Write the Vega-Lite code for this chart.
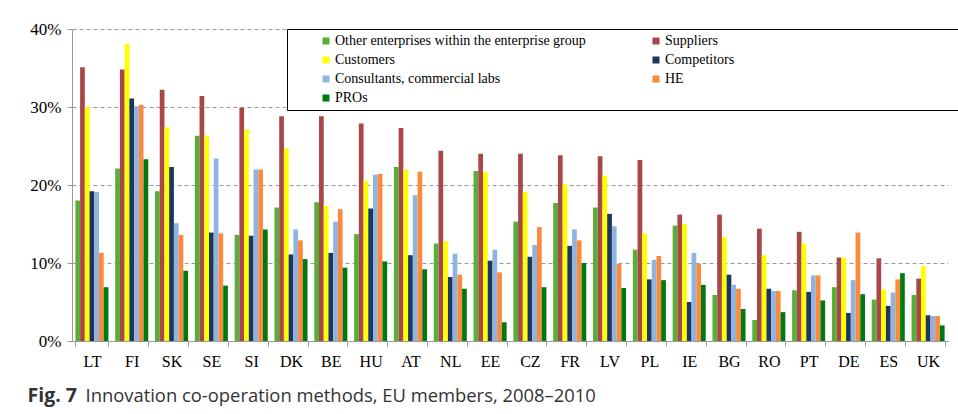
{
  "$schema": "https://vega.github.io/schema/vega-lite/v6.json",
  "width": 876,
  "height": 312,
  "autosize": "none",
  "padding": {"left": 72, "top": 29, "right": 10, "bottom": 73},
  "background": "white",
  "data": {
    "values": [
      {"country": "LT", "Other enterprises within the enterprise group": 18.0, "Suppliers": 35.1, "Customers": 30.0, "Competitors": 19.2, "Consultants, commercial labs": 19.1, "HE": 11.3, "PROs": 6.9},
      {"country": "FI", "Other enterprises within the enterprise group": 22.1, "Suppliers": 34.8, "Customers": 38.1, "Competitors": 31.1, "Consultants, commercial labs": 30.1, "HE": 30.3, "PROs": 23.3},
      {"country": "SK", "Other enterprises within the enterprise group": 19.2, "Suppliers": 32.2, "Customers": 27.4, "Competitors": 22.3, "Consultants, commercial labs": 15.1, "HE": 13.6, "PROs": 9.0},
      {"country": "SE", "Other enterprises within the enterprise group": 26.3, "Suppliers": 31.4, "Customers": 26.3, "Competitors": 13.9, "Consultants, commercial labs": 23.4, "HE": 13.8, "PROs": 7.1},
      {"country": "SI", "Other enterprises within the enterprise group": 13.6, "Suppliers": 29.9, "Customers": 27.1, "Competitors": 13.5, "Consultants, commercial labs": 22.0, "HE": 22.0, "PROs": 14.3},
      {"country": "DK", "Other enterprises within the enterprise group": 17.1, "Suppliers": 28.8, "Customers": 24.7, "Competitors": 11.1, "Consultants, commercial labs": 14.3, "HE": 12.9, "PROs": 10.5},
      {"country": "BE", "Other enterprises within the enterprise group": 17.8, "Suppliers": 28.8, "Customers": 17.3, "Competitors": 11.3, "Consultants, commercial labs": 15.3, "HE": 16.9, "PROs": 9.4},
      {"country": "HU", "Other enterprises within the enterprise group": 13.7, "Suppliers": 27.9, "Customers": 20.5, "Competitors": 17.0, "Consultants, commercial labs": 21.3, "HE": 21.4, "PROs": 10.2},
      {"country": "AT", "Other enterprises within the enterprise group": 22.3, "Suppliers": 27.3, "Customers": 22.0, "Competitors": 11.0, "Consultants, commercial labs": 18.7, "HE": 21.7, "PROs": 9.2},
      {"country": "NL", "Other enterprises within the enterprise group": 12.5, "Suppliers": 24.4, "Customers": 12.8, "Competitors": 8.2, "Consultants, commercial labs": 11.2, "HE": 8.5, "PROs": 6.7},
      {"country": "EE", "Other enterprises within the enterprise group": 21.8, "Suppliers": 24.0, "Customers": 21.7, "Competitors": 10.3, "Consultants, commercial labs": 11.7, "HE": 8.8, "PROs": 2.4},
      {"country": "CZ", "Other enterprises within the enterprise group": 15.3, "Suppliers": 24.0, "Customers": 19.1, "Competitors": 10.8, "Consultants, commercial labs": 12.3, "HE": 14.6, "PROs": 6.9},
      {"country": "FR", "Other enterprises within the enterprise group": 17.7, "Suppliers": 23.8, "Customers": 20.1, "Competitors": 12.2, "Consultants, commercial labs": 14.3, "HE": 12.9, "PROs": 10.0},
      {"country": "LV", "Other enterprises within the enterprise group": 17.1, "Suppliers": 23.7, "Customers": 21.2, "Competitors": 16.3, "Consultants, commercial labs": 14.7, "HE": 9.9, "PROs": 6.8},
      {"country": "PL", "Other enterprises within the enterprise group": 11.7, "Suppliers": 23.2, "Customers": 13.8, "Competitors": 7.9, "Consultants, commercial labs": 10.4, "HE": 10.9, "PROs": 7.8},
      {"country": "IE", "Other enterprises within the enterprise group": 14.8, "Suppliers": 16.2, "Customers": 15.0, "Competitors": 5.0, "Consultants, commercial labs": 11.3, "HE": 9.9, "PROs": 7.2},
      {"country": "BG", "Other enterprises within the enterprise group": 5.9, "Suppliers": 16.2, "Customers": 13.3, "Competitors": 8.5, "Consultants, commercial labs": 7.2, "HE": 6.7, "PROs": 4.1},
      {"country": "RO", "Other enterprises within the enterprise group": 2.7, "Suppliers": 14.4, "Customers": 11.0, "Competitors": 6.7, "Consultants, commercial labs": 6.4, "HE": 6.4, "PROs": 3.7},
      {"country": "PT", "Other enterprises within the enterprise group": 6.5, "Suppliers": 14.0, "Customers": 12.5, "Competitors": 6.3, "Consultants, commercial labs": 8.4, "HE": 8.4, "PROs": 5.2},
      {"country": "DE", "Other enterprises within the enterprise group": 6.9, "Suppliers": 10.7, "Customers": 10.7, "Competitors": 3.6, "Consultants, commercial labs": 7.8, "HE": 13.9, "PROs": 6.0},
      {"country": "ES", "Other enterprises within the enterprise group": 5.3, "Suppliers": 10.6, "Customers": 6.6, "Competitors": 4.5, "Consultants, commercial labs": 6.2, "HE": 7.9, "PROs": 8.7},
      {"country": "UK", "Other enterprises within the enterprise group": 5.9, "Suppliers": 8.0, "Customers": 9.6, "Competitors": 3.3, "Consultants, commercial labs": 3.2, "HE": 3.2, "PROs": 2.0}
    ]
  },
  "transform": [
    {"fold": ["Other enterprises within the enterprise group", "Suppliers", "Customers", "Competitors", "Consultants, commercial labs", "HE", "PROs"], "as": ["type", "value"]}
  ],
  "mark": {"type": "bar"},
  "encoding": {
    "x": {
      "field": "country",
      "type": "nominal",
      "sort": null,
      "scale": {"paddingInner": 0.17, "paddingOuter": 0.085},
      "axis": {
        "title": "Innovation co-operation methods, EU members, 2008–2010",
        "titleAnchor": "start",
        "titleAlign": "left",
        "titleX": 13,
        "titleY": 60,
        "titleBaseline": "alphabetic",
        "titleFont": "Open Sans",
        "titleFontSize": 18.4,
        "titleFontWeight": "normal",
        "titleColor": "#333333",
        "labelAngle": 0,
        "labelFont": "Liberation Serif",
        "labelFontSize": 16,
        "labelColor": "black",
        "labelPadding": 7,
        "domainColor": "#999999",
        "tickColor": "#999999",
        "tickSize": 5,
        "tickBand": "extent"
      }
    },
    "xOffset": {
      "field": "type",
      "sort": ["Other enterprises within the enterprise group", "Suppliers", "Customers", "Competitors", "Consultants, commercial labs", "HE", "PROs"]
    },
    "y": {
      "field": "value",
      "type": "quantitative",
      "scale": {"domain": [0, 40]},
      "axis": {
        "title": "Fig. 7",
        "titleAngle": 0,
        "titleX": -45,
        "titleY": 372,
        "titleAlign": "left",
        "titleBaseline": "alphabetic",
        "titleFont": "Open Sans",
        "titleFontSize": 19.5,
        "titleFontWeight": "bold",
        "titleColor": "#333333",
        "values": [0, 10, 20, 30, 40],
        "labelExpr": "datum.value + '%'",
        "labelFont": "Liberation Serif",
        "labelFontSize": 17,
        "labelColor": "black",
        "labelPadding": 6,
        "grid": true,
        "gridDash": [4, 3],
        "gridColor": "#999999",
        "domainColor": "#999999",
        "tickColor": "#999999",
        "tickSize": 5
      }
    },
    "color": {
      "field": "type",
      "type": "nominal",
      "scale": {
        "domain": ["Other enterprises within the enterprise group", "Customers", "Consultants, commercial labs", "PROs", "Suppliers", "Competitors", "HE"],
        "range": ["#58ae36", "#ffff00", "#8fb4e0", "#007a10", "#a8474a", "#1c3660", "#fb8a3c"]
      },
      "legend": {
        "title": "\u00a0",
        "titleOrient": "right",
        "titlePadding": 240,
        "symbolOffset": 27,
        "labelOffset": 2,
        "orient": "none",
        "legendX": 215,
        "legendY": 0,
        "columns": 2,
        "gridAlign": "each",
        "columnPadding": 36,
        "padding": 5,
        "fillColor": "white",
        "strokeColor": "black",
        "symbolType": "square",
        "symbolSize": 49,
        "symbolStrokeWidth": 0,
        "symbolOpacity": 1,
        "labelFont": "Liberation Serif",
        "labelFontSize": 14,
        "labelColor": "black",
        "labelLimit": 500,
        "rowPadding": 5
      }
    }
  },
  "config": {"view": {"stroke": null}, "legend": {"labelFont": "Liberation Serif"}}
}
